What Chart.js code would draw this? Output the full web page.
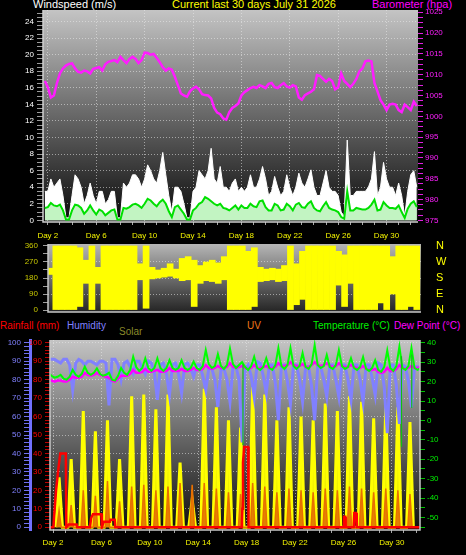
<!DOCTYPE html>
<html>
<head>
<meta charset="utf-8">
<title>Current last 30 days July 31 2026</title>
<script src="https://cdn.jsdelivr.net/npm/chart.js@4.4.1/dist/chart.umd.min.js"></script>
<style>
    body {
        margin: 0;
        width: 466px;
        height: 555px;
        background: #000;
        position: relative;
        overflow: hidden;
        font-family: "Liberation Sans", Arial, sans-serif;
    }
    .lbl {
        position: absolute;
        white-space: nowrap;
        line-height: 1;
    }
    canvas {
        position: absolute;
        left: 0;
    }
</style>
</head>
<body>

<div class="lbl" style="left:33px; top:-1px; font-size:11px; color:#ffffff;">Windspeed (m/s)</div>
<div class="lbl" style="left:172px; top:-1px; font-size:11px; color:#ffff00;">Current last 30 days July 31 2026</div>
<div class="lbl" style="left:372px; top:-1px; font-size:11px; color:#ff00ff;">Barometer (hpa)</div>

<div class="lbl" style="left:0px; top:321px; font-size:10px; color:#ff0000;">Rainfall (mm)</div>
<div class="lbl" style="left:67px; top:321px; font-size:10px; color:#8080ff;">Humidity</div>
<div class="lbl" style="left:119px; top:327px; font-size:10px; color:#8a8a2a;">Solar</div>
<div class="lbl" style="left:247px; top:321px; font-size:10px; color:#f07818;">UV</div>
<div class="lbl" style="left:313px; top:321px; font-size:10px; color:#00f000;">Temperature (°C)</div>
<div class="lbl" style="left:394px; top:321px; font-size:10px; color:#ff00ff;">Dew Point (°C)</div>

<canvas id="windChart" width="466" height="242" style="top:0px;"></canvas>
<canvas id="dirChart" width="466" height="80" style="top:240px;"></canvas>
<canvas id="weatherChart" width="466" height="225" style="top:330px;"></canvas>

<script>
// Weather station graph - last 30 days

// ---------- tick labels ----------
const dayTicks = [2, 6, 10, 14, 18, 22, 26, 30];
const windTickLabels = [0, 2, 4, 6, 8, 10, 12, 14, 16, 18, 20, 22, 24];
const baroTickLabels = [975, 980, 985, 990, 995, 1000, 1005, 1010, 1015, 1020, 1025];
const dirTickLabels = [0, 90, 180, 270, 360];
const compassNames = { 0: 'N', 90: 'E', 180: 'S', 270: 'W', 360: 'N' };
const percentTickLabels = [0, 10, 20, 30, 40, 50, 60, 70, 80, 90, 100];
const tempTickLabels = [-50, -40, -30, -20, -10, 0, 10, 20, 30, 40];

// ---------- top panel: samples every 6 h, first one at day 1.75 ----------
const topStart = 1.75;
const topStep = 0.25;

const windGust = [
    3.5,
    3.5, 5.0, 4.0, 4.5,   5.0, 3.0, 0.3, 0.3,   3.0, 5.5, 5.0, 4.0,   2.0, 3.0, 4.5, 3.0,
    2.0, 3.5, 3.5, 2.0,   2.5, 3.5, 3.5, 0.3,   0.3, 4.5, 4.0, 4.5,   5.5, 5.5, 5.0, 4.0,
    5.0, 6.7, 6.0, 5.0,   4.5, 6.0, 8.2, 5.5,   3.0, 1.0, 4.0, 4.0,   3.5, 2.0, 0.3, 0.3,
    3.5, 4.0, 6.0, 5.5,   5.0, 6.0, 8.7, 5.0,   4.5, 6.5, 4.0, 4.0,   3.5, 4.5, 5.0, 3.5,
    4.0, 3.5, 4.0, 5.5,   4.0, 4.0, 5.0, 6.5,   5.0, 3.0, 3.5, 5.3,   4.0, 3.0, 3.5, 5.5,
    4.0, 3.0, 4.0, 5.7,   4.5, 4.0, 5.0, 6.1,   4.0, 3.0, 3.0, 4.5,   6.0, 4.0, 3.5, 3.5,
    3.0, 1.0, 0.5, 9.7,   3.0, 3.0, 3.5, 3.5,   3.5, 3.5, 4.0, 5.0,   8.3, 3.0, 4.0, 7.0,
    5.0, 4.0, 4.0, 3.0,   4.5, 3.0, 0.5, 3.5,   5.5, 6.0, 4.0
];

const windSpeed = [
    1.5,
    1.6, 2.1, 1.8, 1.7,   1.9, 1.2, 0.1, 0.1,   1.2, 1.9, 1.8, 1.5,   0.8, 1.2, 1.8, 1.2,
    0.7, 1.3, 1.1, 0.6,   0.9, 1.2, 1.3, 0.1,   0.1, 1.5, 1.4, 1.6,   1.9, 2.0, 1.8, 1.5,
    2.0, 2.6, 2.4, 2.0,   1.7, 2.2, 2.5, 2.0,   1.1, 0.4, 1.6, 1.8,   1.3, 0.8, 0.1, 0.1,
    1.2, 1.5, 2.0, 2.2,   2.8, 2.6, 2.3, 2.0,   1.8, 2.0, 1.5, 1.4,   1.2, 1.5, 1.8, 1.3,
    1.8, 1.5, 1.5, 2.0,   1.7, 1.6, 2.3, 2.4,   1.6, 1.2, 1.2, 2.0,   1.8, 1.2, 1.3, 2.0,
    1.7, 1.2, 1.9, 2.1,   1.6, 1.5, 2.0, 2.3,   1.5, 1.2, 1.1, 1.7,   2.2, 1.5, 1.3, 1.2,
    1.0, 0.4, 0.2, 3.5,   1.2, 1.2, 1.5, 1.4,   1.3, 1.3, 1.5, 1.9,   2.5, 1.2, 1.3, 2.2,
    1.8, 1.5, 1.5, 1.4,   1.8, 1.0, 0.3, 1.4,   2.0, 2.3, 1.6
];

const barometer = [
    1008.5,
    1007, 1004.5, 1005, 1008,          1010.3, 1011.5, 1012.2, 1012.6,
    1012.7, 1011.5, 1010.7, 1010.5,    1011, 1010.8, 1010.3, 1011.4,
    1011.6, 1011.8, 1011, 1012.5,      1013.1, 1013.3, 1013.5, 1013,
    1014.3, 1013.5, 1012.8, 1013.8,    1014.3, 1013.8, 1012.8, 1013.5,
    1015.3, 1015.2, 1014.8, 1015,      1014, 1013, 1011.8, 1011,
    1011.5, 1011.2, 1009.5, 1007.5,    1005.5, 1005, 1004.7, 1006,
    1006.7, 1007.1, 1006.5, 1005.3,    1005.1, 1005, 1004.3, 1002,
    1000.9, 1000.5, 999.5, 999.2,      1001, 1002, 1002.5, 1003.1,
    1005, 1005.8, 1006.3, 1006.8,      1007.1, 1006.8, 1007.5, 1007.2,
    1006.8, 1007.8, 1008, 1007,        1006.8, 1007.5, 1008, 1007.2,
    1006.9, 1007.5, 1007.2, 1004.5,    1004, 1005.1, 1005.5, 1005.9,
    1006.5, 1009.9, 1009.7, 1009,      1008.3, 1009, 1008.5, 1006.5,
    1007, 1010.3, 1008.5, 1007.8,      1007, 1007.8, 1009, 1010.8,
    1011.5, 1013.2, 1013.4, 1013.2,    1008, 1006, 1003.9, 1002.8,
    1001.5, 1002.8, 1003, 1002.8,      1001.5, 1001, 1002.8, 1002.2,
    1001.5, 1003.5, 1002.5
];

// ---------- wind direction: half-day slots, centre of the first at day 1.75 ----------
const dirStart = 1.75;
const dirStep = 0.5;

const dirLow = [
    200,
    0, 0, 0, 0,   20, 150, 0, 150,   0, 0, 0, 0,   0, 0, 170, 10,
    175, 180, 185, 190,   180, 165, 170, 20,   150, 165, 160, 150,   170, 0, 0, 0,
    0, 20, 160, 165,   170, 160, 165, 0,   30, 60, 0, 0,   0, 0, 0, 140,
    20, 150, 0, 0,   0, 0, 40, 0,   90, 0, 0, 20,   0
];
const dirHigh = [
    235,
    360, 360, 360, 360,   350, 280, 360, 240,   360, 360, 360, 360,   360, 360, 260, 360,
    240, 225, 235, 260,   230, 290, 300, 280,   250, 270, 280, 265,   300, 360, 360, 360,
    330, 350, 240, 230,   235, 230, 250, 360,   260, 330, 360, 360,   360, 360, 360, 330,
    310, 360, 360, 360,   360, 360, 360, 360,   300, 360, 360, 360,   360
];

// ---------- bottom panel: samples at 03, 09, 15 and 21 h, first one at day 1 15h ----------
const bottomStart = 1.625;
const bottomStep = 0.25;

const temperature = [
    24.5, 23,
    22, 22.5, 23.5, 21.5,     21, 22.5, 26, 23.5,       22.5, 24, 27.7, 24.5,
    23.5, 24.5, 26.8, 24,     23, 23.5, 24.5, 21,       20.5, 23, 27, 24.5,
    23.5, 26, 32.8, 27.5,     25.5, 27, 32, 27,         25.5, 27, 32, 27,
    25.5, 27, 31, 27,         26, 27, 31, 27,           26, 27, 30.3, 27,
    26, 28, 36.2, 29,         27, 28, 34.2, 28,         26.5, 28.5, 37, 29,
    27, 28.5, 30, 27.5,       26, 28, 32.8, 27,         26, 27.5, 32, 27,
    26, 28.5, 37.2, 28,       26.5, 28.5, 37.2, 28,     26.5, 28, 34.7, 27.5,
    26.5, 29, 38.8, 28.5,     27, 28, 33.7, 27.5,       26.5, 28.5, 36.2, 28,
    26.5, 27.5, 32, 27,       26, 27.5, 32.7, 26.5,     25.5, 27, 31, 26,
    25, 27.5, 36, 27,         25.5, 28, 38, 27,         26, 28, 37.2, 27,
    26, 27
];

const dewPoint = [
    21, 20.5,
    20, 20.5, 20.5, 20,       20, 21, 22.5, 22,         22, 22.5, 24.5, 23.5,
    23, 23.5, 24.5, 23.5,     23, 22.5, 22, 20.5,       20, 21.5, 23, 23,
    23, 24, 26, 24.5,         24.5, 25, 26.5, 25,       25, 25.5, 26, 25,
    25, 25.5, 27, 25.5,       25.5, 25.5, 26.5, 25.5,   25.5, 26, 27, 26,
    26, 26.5, 28.5, 27,       26.5, 27, 28, 27,         27, 27.5, 29.5, 27.5,
    27, 27.5, 28, 27,         26.5, 27, 28.5, 27,       27, 27.5, 28, 27,
    27, 27.5, 29.5, 28,       28, 28.5, 30, 28.5,       28, 28, 29, 27.5,
    27.5, 28.5, 30, 28.5,     28, 28.5, 29.5, 28,       27.5, 28, 29.5, 28,
    27.5, 27.5, 28.5, 27.5,   27, 27, 28, 26.5,         26, 26, 26.5, 25,
    24.5, 25, 27, 25.5,       25.5, 26.5, 28.5, 27,     26.5, 27, 28, 27,
    27, 27.5
];

const humidity = [
    91, 91,
    91, 90, 89, 91,           91, 88, 74.4, 89,         91, 90, 88, 90,
    90, 89, 88, 90,           90, 89, 66, 91,           91, 88, 80, 89,
    90, 87, 83.5, 90,         90, 86, 83, 90,           89, 84, 69, 88,
    89, 83, 71.7, 88,         89, 83, 72.7, 88,         89, 86, 81.6, 88,
    88, 82, 74.4, 86,         86, 80, 65.3, 85,         86, 80, 68, 87,
    87, 80, 46, 86,           88, 82, 70.7, 89.7,       89, 82, 72.7, 88,
    88, 78, 58, 88,           88, 79, 67, 88,           88, 80, 68, 87,
    87, 76, 58, 87,           87, 80, 70.7, 88,         88, 80, 70.7, 88,
    88, 80, 69, 88,           88, 80, 68, 88,           88, 81, 71.7, 89,
    88, 76, 51, 88,           88, 77, 56, 88,           87, 79, 65, 87,
    87, 85
];

// daily rain total (resets at midnight)
const rainTimes = [1.75, 2.03, 2.1, 2.25, 2.45, 2.6, 3.06, 3.1, 3.3, 3.95, 4.0,
    5.05, 5.15, 5.3, 6.0, 6.04, 6.2, 6.7, 6.75, 7.1, 7.15,
    17.6, 17.65, 17.7, 17.8, 18.12, 18.16, 26.0, 26.04, 26.15, 26.19,
    26.85, 26.9, 27.05, 27.1, 32.5];
const rainMm = [0, 0, 7, 20, 32, 40, 40, 0, 1.5, 1.5, 0,
    0, 5, 7, 7, 0, 3, 3, 4, 4, 0,
    0, 10, 35, 43.5, 43.5, 0, 0, 5.7, 5.7, 0,
    0, 7.7, 7.7, 0, 0];

// one solar / UV peak per day around noon
const sunDays = [2, 3, 4, 5, 6, 7, 8, 9, 10, 11, 12, 13, 14, 15, 16,
    17, 18, 19, 20, 21, 22, 23, 24, 25, 26, 27, 28, 29, 30, 31];
const solarPeaks = [27, 37, 63, 52, 58, 37, 71, 72, 64, 72, 35, 15, 75, 65, 58,
    54, 76, 72, 58, 65, 60, 58, 67, 63, 71, 68, 59, 65, 65, 57];
const uvPeaks = [9, 12, 20, 17, 25, 14, 22, 23, 20, 22, 24, 23, 24, 21, 19,
    18, 24, 22, 19, 21, 20, 19, 21, 20, 22, 21, 19, 21, 20, 18];

// sensor glitches in the temperature trace
const glitchTimes = [17.7, 30.8, 31.65];
const glitchTop = [29, 33, 34];
const glitchLow = [-12.6, -13.5, 6.4];

// ---------- helpers ----------
const tickFont = { family: 'Liberation Sans, Arial, sans-serif', size: 8 };
const gridDot = 'rgba(235, 235, 235, 0.55)';

function steps(from, to, step) {
    const out = [];
    for (let v = from; v <= to + 1e-9; v += step) out.push(Math.round(v * 1000) / 1000);
    return out;
}

function timesFor(values, start, step) {
    return values.map((_, i) => start + i * step);
}

function points(times, values) {
    return values.map((v, i) => ({ x: times[i], y: v }));
}

function spikes(days, peaks, rise, fall) {
    const out = [];
    days.forEach((d, i) => {
        out.push({ x: d + rise, y: 0 }, { x: d + 0.5, y: peaks[i] }, { x: d + fall, y: 0 });
    });
    return out;
}

function dayAxis(min, max, height, pad, display) {
    return {
        type: 'linear',
        display: display,
        min: min,
        max: max,
        offset: false,
        afterBuildTicks: axis => { axis.ticks = steps(2, 32, 1).map(v => ({ value: v })); },
        afterFit: axis => {
            axis.height = height;
            axis.paddingLeft = 0;
            axis.paddingRight = 0;
        },
        ticks: {
            autoSkip: false,
            maxRotation: 0,
            padding: pad,
            color: '#f2f200',
            font: tickFont,
            callback: v => dayTicks.includes(v) ? 'Day ' + v : ''
        },
        grid: {
            color: c => dayTicks.includes(c.tick.value) ? gridDot : 'transparent',
            tickColor: '#a8a8a8',
            tickLength: 3
        },
        border: { display: false, dash: [1, 2] }
    };
}

function valueAxis(o) {
    return {
        type: 'linear',
        position: o.position,
        weight: o.weight || 0,
        min: o.min,
        max: o.max,
        afterBuildTicks: axis => { axis.ticks = o.ticks.map(v => ({ value: v })); },
        afterFit: axis => {
            axis.width = o.width;
            axis.paddingTop = 0;
            axis.paddingBottom = 0;
        },
        ticks: {
            autoSkip: false,
            padding: o.padding,
            color: o.color,
            font: o.font || tickFont,
            callback: v => o.labels.includes(v) ? (o.text ? o.text(v) : String(v)) : ''
        },
        grid: {
            drawOnChartArea: !!o.grid,
            drawTicks: o.tickLength > 0,
            color: c => (o.grid && o.grid.includes(c.tick.value)) ? gridDot : 'transparent',
            tickColor: o.tickColor || 'transparent',
            tickLength: o.tickLength
        },
        border: {
            display: !!o.border,
            color: o.border || 'transparent',
            width: o.borderWidth || 1,
            dash: o.grid ? [1, 2] : []
        }
    };
}

// gray gradient behind each plot and a light frame around it
const panelPlugin = {
    id: 'panel',
    beforeDraw(chart, args, opts) {
        const { ctx, chartArea: a } = chart;
        const g = ctx.createLinearGradient(0, a.top, 0, a.bottom);
        g.addColorStop(0, opts.top);
        g.addColorStop(1, opts.bottom);
        ctx.save();
        ctx.fillStyle = g;
        ctx.fillRect(a.left, a.top, a.right - a.left, a.bottom - a.top);
        ctx.restore();
    },
    afterDatasetsDraw(chart, args, opts) {
        const { ctx, chartArea: a } = chart;
        ctx.save();
        ctx.strokeStyle = opts.frame;
        ctx.lineWidth = 1.5;
        ctx.beginPath();
        ctx.moveTo(a.left, a.top);
        ctx.lineTo(a.left, a.bottom);
        ctx.lineTo(a.right, a.bottom);
        if (opts.closed) ctx.lineTo(a.right, a.top);
        ctx.stroke();
        ctx.restore();
    }
};

const commonOptions = {
    responsive: false,
    animation: false,
    events: [],
    elements: { line: { tension: 0 }, point: { radius: 0 } }
};

// ---------- top: wind speed, gust and barometer ----------
const topTimes = timesFor(windGust, topStart, topStep);

new Chart(document.getElementById('windChart'), {
    type: 'line',
    data: {
        datasets: [
            {
                label: 'Barometer',
                data: points(topTimes, barometer),
                yAxisID: 'yBaro',
                borderColor: '#ff1cff',
                borderWidth: 2.5,
                fill: false,
                order: 1
            },
            {
                label: 'Wind speed',
                data: points(topTimes, windSpeed),
                yAxisID: 'yWind',
                borderColor: '#00e000',
                backgroundColor: '#c2f4c2',
                borderWidth: 2,
                fill: 'origin',
                order: 2
            },
            {
                label: 'Gust',
                data: points(topTimes, windGust),
                yAxisID: 'yWind',
                borderColor: '#ffffff',
                backgroundColor: '#ffffff',
                borderWidth: 1,
                fill: 'origin',
                order: 3
            }
        ]
    },
    options: {
        ...commonOptions,
        layout: { padding: { top: 10, left: 0, right: 0, bottom: 0 } },
        plugins: {
            legend: { display: false },
            tooltip: { enabled: false },
            panel: { top: '#c4c4c4', bottom: '#0a0a0a', frame: '#cfcfcf', closed: false }
        },
        scales: {
            x: dayAxis(1.6, 32.6, 20, 6, true),
            yWind: valueAxis({
                position: 'left', min: -0.2, max: 25.4, width: 43,
                ticks: steps(0, 25, 0.5), labels: windTickLabels, grid: windTickLabels.filter(v => v > 0),
                color: '#ffffff', tickColor: '#9c9c9c', tickLength: 6, padding: 3
            }),
            yBaro: valueAxis({
                position: 'right', min: 974.6, max: 1025.55, width: 48,
                ticks: steps(975, 1025, 1.25), labels: baroTickLabels,
                color: '#ff20ff', tickColor: '#e020e0', tickLength: 5, padding: 2
            })
        }
    },
    plugins: [panelPlugin]
});

// ---------- middle: wind direction ----------
const dirTimes = timesFor(dirLow, dirStart, dirStep);

new Chart(document.getElementById('dirChart'), {
    type: 'bar',
    data: {
        datasets: [{
            label: 'Wind direction',
            data: dirLow.map((lo, i) => ({ x: dirTimes[i], y: [lo, dirHigh[i]] })),
            yAxisID: 'yDir',
            backgroundColor: '#ffff00',
            borderWidth: 0,
            barPercentage: 1,
            categoryPercentage: 1,
            grouped: false
        }]
    },
    options: {
        ...commonOptions,
        layout: { padding: { top: 4, left: 0, right: 0, bottom: 8 } },
        plugins: {
            legend: { display: false },
            tooltip: { enabled: false },
            panel: { top: '#b6b6b6', bottom: '#242424', frame: '#c8c8c8', closed: false }
        },
        scales: {
            x: dayAxis(1.6, 32.6, 0, 0, false),
            yDir: valueAxis({
                position: 'left', min: -11, max: 371, width: 48,
                ticks: steps(0, 360, 45), labels: dirTickLabels, grid: [90, 180, 270],
                color: '#c8c800', tickColor: '#a0a0a0', tickLength: 5, padding: 5
            }),
            yCompass: valueAxis({
                position: 'right', min: -11, max: 371, width: 45,
                ticks: dirTickLabels, labels: dirTickLabels, text: v => compassNames[v],
                color: '#ffff00', tickLength: 0, padding: 15,
                font: { family: 'Liberation Sans, Arial, sans-serif', size: 11 }
            })
        }
    },
    plugins: [panelPlugin]
});

// ---------- bottom: rain, humidity, solar, UV, temperature, dew point ----------
const bottomTimes = timesFor(temperature, bottomStart, bottomStep);
const glitchPoints = [];
glitchTimes.forEach((t, i) => {
    glitchPoints.push({ x: t, y: glitchTop[i] }, { x: t, y: glitchLow[i] }, { x: t, y: null });
});

new Chart(document.getElementById('weatherChart'), {
    type: 'line',
    data: {
        datasets: [
            {
                label: 'Rainfall',
                data: points(rainTimes, rainMm),
                yAxisID: 'yRain',
                borderColor: '#ff0000',
                borderWidth: 2.5,
                fill: false,
                order: 1
            },
            {
                label: 'Temperature glitch',
                data: glitchPoints,
                yAxisID: 'yTemp',
                borderColor: '#10c010',
                borderWidth: 1.2,
                spanGaps: false,
                fill: false,
                order: 2
            },
            {
                label: 'Temperature',
                data: points(bottomTimes, temperature),
                yAxisID: 'yTemp',
                borderColor: '#00ff00',
                borderWidth: 2,
                fill: false,
                order: 3
            },
            {
                label: 'Dew Point',
                data: points(bottomTimes, dewPoint),
                yAxisID: 'yTemp',
                borderColor: '#ff00ff',
                borderWidth: 2.5,
                fill: false,
                order: 4
            },
            {
                label: 'Humidity',
                data: points(bottomTimes, humidity),
                yAxisID: 'yHum',
                borderColor: '#8080ff',
                borderWidth: 3,
                fill: false,
                order: 5
            },
            {
                label: 'UV',
                data: spikes(sunDays, uvPeaks, 0.32, 0.68),
                yAxisID: 'yRain',
                borderColor: '#e87000',
                backgroundColor: 'rgba(225, 110, 0, 0.85)',
                borderWidth: 1.5,
                fill: 'origin',
                order: 6
            },
            {
                label: 'Solar',
                data: spikes(sunDays, solarPeaks, 0.22, 0.78),
                yAxisID: 'yRain',
                borderColor: '#ffff00',
                backgroundColor: 'rgba(255, 255, 0, 0.92)',
                borderWidth: 3,
                fill: 'origin',
                order: 7
            }
        ]
    },
    options: {
        ...commonOptions,
        layout: { padding: { top: 10, left: 0, right: 0, bottom: 0 } },
        plugins: {
            legend: { display: false },
            tooltip: { enabled: false },
            panel: { top: '#c4c4c4', bottom: '#0e0e0e', frame: '#c8c8c8', closed: true }
        },
        scales: {
            x: dayAxis(1.75, 32.33, 25, 5, true),
            yHum: valueAxis({
                position: 'left', weight: 1, min: -1.5, max: 101.5, width: 30,
                ticks: steps(0, 100, 2), labels: percentTickLabels,
                color: '#8080ff', tickColor: '#7070f0', tickLength: 6, padding: 3,
                border: '#7070ff', borderWidth: 3
            }),
            yRain: valueAxis({
                position: 'left', weight: 0, min: -1.5, max: 101.5, width: 20,
                ticks: steps(0, 100, 2), labels: percentTickLabels, grid: percentTickLabels.filter(v => v > 0),
                color: '#ff0000', tickColor: '#c00000', tickLength: 5, padding: 3
            }),
            yTemp: valueAxis({
                position: 'right', min: -56.4, max: 41.4, width: 46,
                ticks: steps(-55, 40, 5), labels: tempTickLabels,
                color: '#00f000', tickColor: '#00c000', tickLength: 5, padding: 2
            })
        }
    },
    plugins: [panelPlugin]
});
</script>
</body>
</html>
